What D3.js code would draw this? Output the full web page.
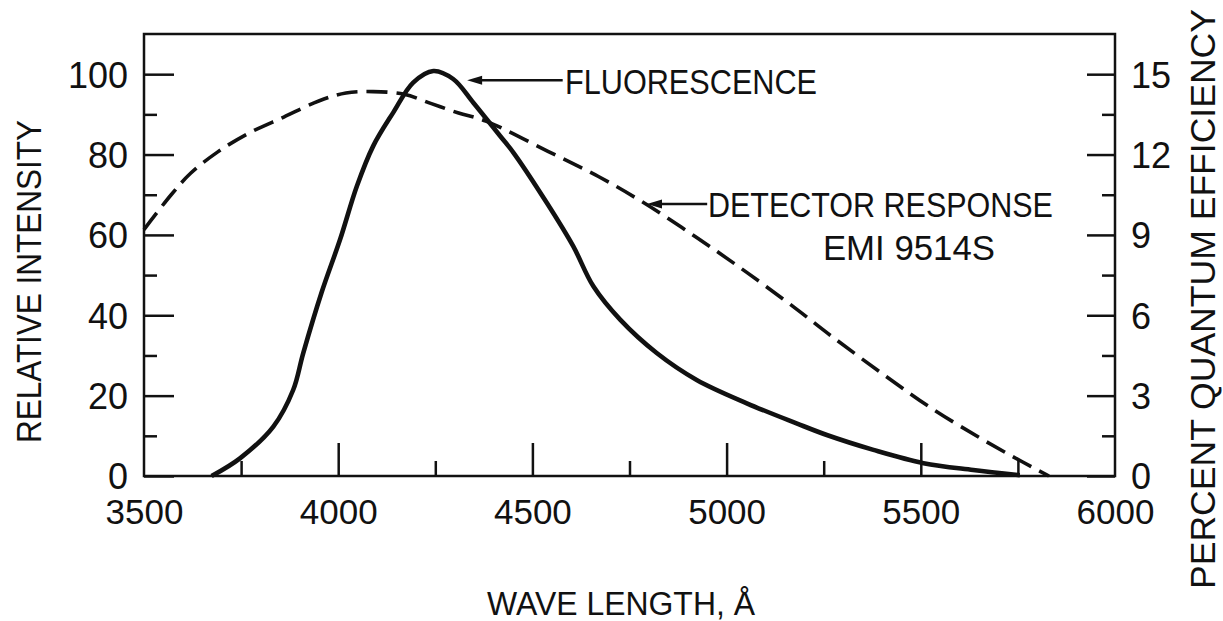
<!DOCTYPE html>
<html>
<head>
<meta charset="utf-8">
<script src="https://cdn.jsdelivr.net/npm/d3@7"></script>
<style>
  html, body { margin: 0; padding: 0; background: #fff; }
  svg { display: block; }
  text { font-family: "Liberation Sans", Arial, sans-serif; fill: #111; }
  .tick line { stroke: #111; stroke-width: 2.5; }
  .domain { display: none; }
</style>
</head>
<body>
<div id="chart"></div>
<script>
"use strict";

// wavelength (Angstrom) and relative intensity of the fluorescence
var fluoWave = [3674, 3747, 3833, 3884, 3910, 3957, 4005, 4048, 4090, 4142, 4193, 4245, 4296, 4348, 4417, 4451, 4537, 4605, 4657, 4726, 4820, 4923, 5052, 5180, 5258, 5378, 5507, 5635, 5755];
var fluoValue = [0, 4.4, 12.3, 21.4, 30.6, 45.6, 58.9, 72.1, 82.1, 90.5, 97.9, 100.8, 98.8, 92.9, 84.6, 80.5, 68, 57.2, 47.2, 38.9, 30.6, 23.9, 18.1, 13.1, 10.2, 6.5, 3.2, 1.5, 0.2];

// detector response EMI 9514S, percent quantum efficiency
var detWave = [3500, 3570, 3620, 3690, 3770, 3860, 3950, 4020, 4090, 4170, 4240, 4310, 4380, 4540, 4670, 4790, 4920, 5050, 5180, 5270, 5400, 5520, 5650, 5760, 5830];
var detValue = [9.2, 10.5, 11.3, 12.1, 12.8, 13.4, 14.0, 14.3, 14.35, 14.25, 13.9, 13.55, 13.25, 12.12, 11.18, 10.17, 8.93, 7.62, 6.23, 5.22, 3.83, 2.6, 1.44, 0.54, 0];

var xTicks = [3500, 4000, 4500, 5000, 5500, 6000];
var xMinorTicks = [3750, 4250, 4750, 5250, 5750];
var yTicks = [0, 20, 40, 60, 80, 100];
var yMinorTicks = [10, 30, 50, 70, 90];
var qeTicks = [0, 3, 6, 9, 12, 15];
var qeMinorTicks = [1.5, 4.5, 7.5, 10.5, 13.5];

var W = 1223, H = 621;
var margin = { top: 34, right: 108, bottom: 145, left: 144 };
var width = W - margin.left - margin.right;
var height = H - margin.top - margin.bottom;

var svg = d3.select('#chart').append('svg').attr('width', W).attr('height', H);
var g = svg.append('g').attr('transform', 'translate(' + margin.left + ',' + margin.top + ')');

var x = d3.scaleLinear().domain([3500, 6000]).range([0, width]);
var y = d3.scaleLinear().domain([0, 110]).range([height, 0]);
// right axis: 15 % lines up with 100 on the left
var yQE = d3.scaleLinear().domain([0, 16.5]).range([height, 0]);

// frame
g.append('rect').attr('width', width).attr('height', height)
  .attr('fill', 'none').attr('stroke', '#111').attr('stroke-width', 2.5);

// left axis
g.append('g').call(d3.axisLeft(y).tickValues(yTicks).tickSize(-30).tickPadding(16))
  .selectAll('text').attr('font-size', 36).attr('dy', '0.36em');
g.append('g').call(d3.axisLeft(y).tickValues(yMinorTicks).tickSize(-13).tickFormat(''));

// right axis
var right = g.append('g').attr('transform', 'translate(' + width + ',0)');
right.append('g').call(d3.axisRight(yQE).tickValues(qeTicks).tickSize(-28).tickPadding(16))
  .selectAll('text').attr('font-size', 36).attr('dy', '0.36em');
right.append('g').call(d3.axisRight(yQE).tickValues(qeMinorTicks).tickSize(-13).tickFormat(''));

// bottom axis
var bottom = g.append('g').attr('transform', 'translate(0,' + height + ')');
bottom.append('g').call(d3.axisBottom(x).tickValues(xTicks).tickSize(-33).tickPadding(23).tickFormat(d3.format('d')))
  .selectAll('text').attr('font-size', 35);
bottom.selectAll('.tick').filter(function (d) { return d === 3500 || d === 6000; }).select('line').remove();
bottom.append('g').call(d3.axisBottom(x).tickValues(xMinorTicks).tickSize(-15).tickFormat(''));

// curves
var fluoData = fluoWave.map(function (w, i) { return { w: w, v: fluoValue[i] }; });
var detData = detWave.map(function (w, i) { return { w: w, v: detValue[i] }; });

var fluoLine = d3.line().x(function (d) { return x(d.w); }).y(function (d) { return y(d.v); }).curve(d3.curveCatmullRom.alpha(0.5));
var detLine = d3.line().x(function (d) { return x(d.w); }).y(function (d) { return yQE(d.v); }).curve(d3.curveCatmullRom.alpha(0.5));

g.append('path').datum(detData).attr('d', detLine)
  .attr('fill', 'none').attr('stroke', '#111').attr('stroke-width', 3.6).attr('stroke-dasharray', '21,9');
g.append('path').datum(fluoData).attr('d', fluoLine)
  .attr('fill', 'none').attr('stroke', '#111').attr('stroke-width', 4.6).attr('stroke-linejoin', 'round');

// labels with arrows
function arrow(x0, x1, yv) {
  var tip = x(x0), tail = x(x1), yy = y(yv);
  g.append('line').attr('x1', tip + 10).attr('x2', tail).attr('y1', yy).attr('y2', yy)
    .attr('stroke', '#111').attr('stroke-width', 2.5);
  g.append('path').attr('d', 'M' + tip + ',' + yy + 'L' + (tip + 15) + ',' + (yy - 4.5) + 'L' + (tip + 15) + ',' + (yy + 4.5) + 'Z')
    .attr('fill', '#111');
}
arrow(4332, 4578, 98.5);
arrow(4795, 4950, 67.7);

function note(txt, w, v, len) {
  g.append('text').attr('x', x(w)).attr('y', y(v)).attr('font-size', 35)
    .attr('textLength', len).attr('lengthAdjust', 'spacingAndGlyphs').text(txt);
}
note('FLUORESCENCE', 4584, 95.1, 252);
note('DETECTOR RESPONSE', 4952, 64.5, 345);
note('EMI 9514S', 5248, 53.8, 172);

// axis titles
svg.append('text').attr('x', 621).attr('y', 615).attr('text-anchor', 'middle').attr('font-size', 33)
  .attr('textLength', 268).attr('lengthAdjust', 'spacingAndGlyphs').text('WAVE LENGTH, Å');
svg.append('text').attr('transform', 'translate(41,281.5) rotate(-90)').attr('text-anchor', 'middle')
  .attr('font-size', 35).attr('textLength', 323).attr('lengthAdjust', 'spacingAndGlyphs').text('RELATIVE INTENSITY');
svg.append('text').attr('transform', 'translate(1215,299) rotate(-90)').attr('text-anchor', 'middle')
  .attr('font-size', 35).attr('textLength', 580).attr('lengthAdjust', 'spacingAndGlyphs').text('PERCENT QUANTUM EFFICIENCY');
</script>
</body>
</html>
